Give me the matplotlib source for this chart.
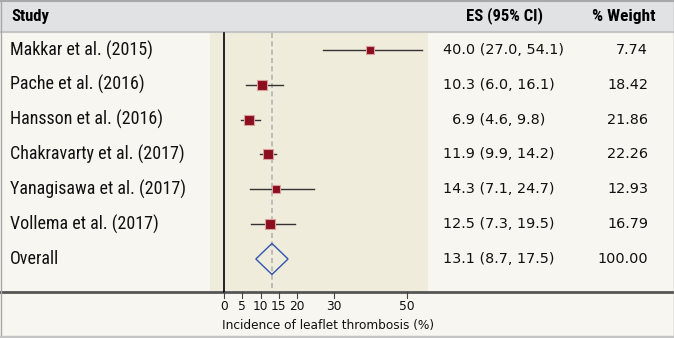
import matplotlib
matplotlib.use("Agg")
import matplotlib.pyplot as plt
from matplotlib.patches import Rectangle, Polygon
import numpy as np

studies = ["Makkar et al. (2015)", "Pache et al. (2016)", "Hansson et al. (2016)",
           "Chakravarty et al. (2017)", "Yanagisawa et al. (2017)", "Vollema et al. (2017)"]
es = [40.0, 10.3, 6.9, 11.9, 14.3, 12.5]
lo = [27.0, 6.0, 4.6, 9.9, 7.1, 7.3]
hi = [54.1, 16.1, 9.8, 14.2, 24.7, 19.5]
weights = ["7.74", "18.42", "21.86", "22.26", "12.93", "16.79"]
overall_label = "Overall"
overall = (13.1, 8.7, 17.5)
overall_weight = "100.00"
xticks = [0, 5, 10, 15, 20, 30, 50]
xlabel = "Incidence of leaflet thrombosis (%)"
headers = ["Study", "ES (95% CI)", "% Weight"]

W, H = 674, 338
fig = plt.figure(figsize=(W/100, H/100), dpi=100)
fig.patch.set_facecolor("#f7f6f0")
ax = fig.add_axes([0, 0, 1, 1])
ax.set_axis_off()
ax.set_xlim(0, W)
ax.set_ylim(H, 0)

x0, pxu = 224.0, 3.66
def X(v):
    return x0 + v * pxu
row0, rstep = 50.0, 34.83
def Y(i):
    return row0 + i * rstep

nar = ["Roboto Condensed", "PT Sans Narrow", "DejaVu Sans"]
reg = ["DejaVu Sans"]

# header band
ax.add_patch(Rectangle((0, 0), W, 32, facecolor="#e1e2e4", edgecolor="none", zorder=1))
ax.plot([0, W], [32, 32], color="#c4c4c4", lw=1.5, zorder=2)
# shaded forest region
ax.add_patch(Rectangle((X(-3.8), 33), X(55.8) - X(-3.8), 292 - 33,
                       facecolor="#f0ecdc", edgecolor="none", zorder=1))
# axis line
ax.plot([0, W], [292, 292], color="#555555", lw=2, zorder=3)
# borders
ax.plot([0.5, 0.5], [0, H], color="#a8a8a8", lw=1, zorder=5)
ax.plot([W-0.5, W-0.5], [0, H], color="#a8a8a8", lw=1, zorder=5)
ax.plot([0, W], [0.5, 0.5], color="#a8a8a8", lw=1.5, zorder=5)
ax.plot([0, W], [H-1.5, H-1.5], color="#c4c4c4", lw=2.5, zorder=5)

# null line and overall dashed line
ax.plot([X(0), X(0)], [33, 292], color="black", lw=1.2, zorder=3)
ax.plot([X(overall[0])]*2, [33, 292], color="#b4b4b4", lw=1.2, ls=(0, (3, 2)), zorder=2)

# ticks
for t in xticks:
    ax.plot([X(t)]*2, [292, 298], color="#444444", lw=0.8, zorder=3)
    ax.text(X(t), 306, str(t), ha="center", va="center", fontsize=8.8, family=reg, color="#111111")
ax.text(328, 325, xlabel, ha="center", va="center", fontsize=8.7, family=reg, color="#111111")

# headers
ax.text(11, 16, headers[0], ha="left", va="center", fontsize=12, fontweight="bold", family=nar)
ax.text(504.5, 16, headers[1], ha="center", va="center", fontsize=12, fontweight="bold", family=nar)
ax.text(656, 16, headers[2], ha="right", va="center", fontsize=12.5, fontweight="bold", family=nar)

# study rows
for i, (s, e, l, h, w) in enumerate(zip(studies, es, lo, hi, weights)):
    y = Y(i)
    ax.text(10, y, s, ha="left", va="center", fontsize=13, family=nar, color="#111111")
    ax.plot([X(l), X(h)], [y, y], color="#333333", lw=1.0, zorder=4)
    side = 3.44 + 1.39 * np.sqrt(float(w))
    ax.plot([X(e)], [y], marker="s", ms=side * 0.72, mfc="#8b0d1e", mec="#d9a0a0",
            mew=0.8, zorder=5)
    es_txt = f"{e:4.1f}".replace(" ", "\u2007")
    ax.text(443, y, f"{es_txt} ({l:.1f}, {h:.1f})", ha="left", va="center", fontsize=10.4,
            family=reg, color="#111111")
    ax.text(648, y, w, ha="right", va="center", fontsize=10.4, family=reg, color="#111111")

# overall
yo = Y(len(studies))
ax.text(10, yo, overall_label, ha="left", va="center", fontsize=13, family=nar, color="#111111")
hh = 15.5
dia = Polygon([[X(overall[1]), yo], [X(overall[0]), yo - hh], [X(overall[2]), yo],
               [X(overall[0]), yo + hh]], closed=True, fill=False, edgecolor="#2f55b0", lw=1.0, zorder=5)
ax.add_patch(dia)
ax.text(443, yo, f"{overall[0]:.1f} ({overall[1]:.1f}, {overall[2]:.1f})", ha="left", va="center",
        fontsize=10.4, family=reg, color="#111111")
ax.text(648, yo, overall_weight, ha="right", va="center", fontsize=10.4, family=reg, color="#111111")

fig.savefig("out.png", dpi=100, facecolor=fig.get_facecolor())
